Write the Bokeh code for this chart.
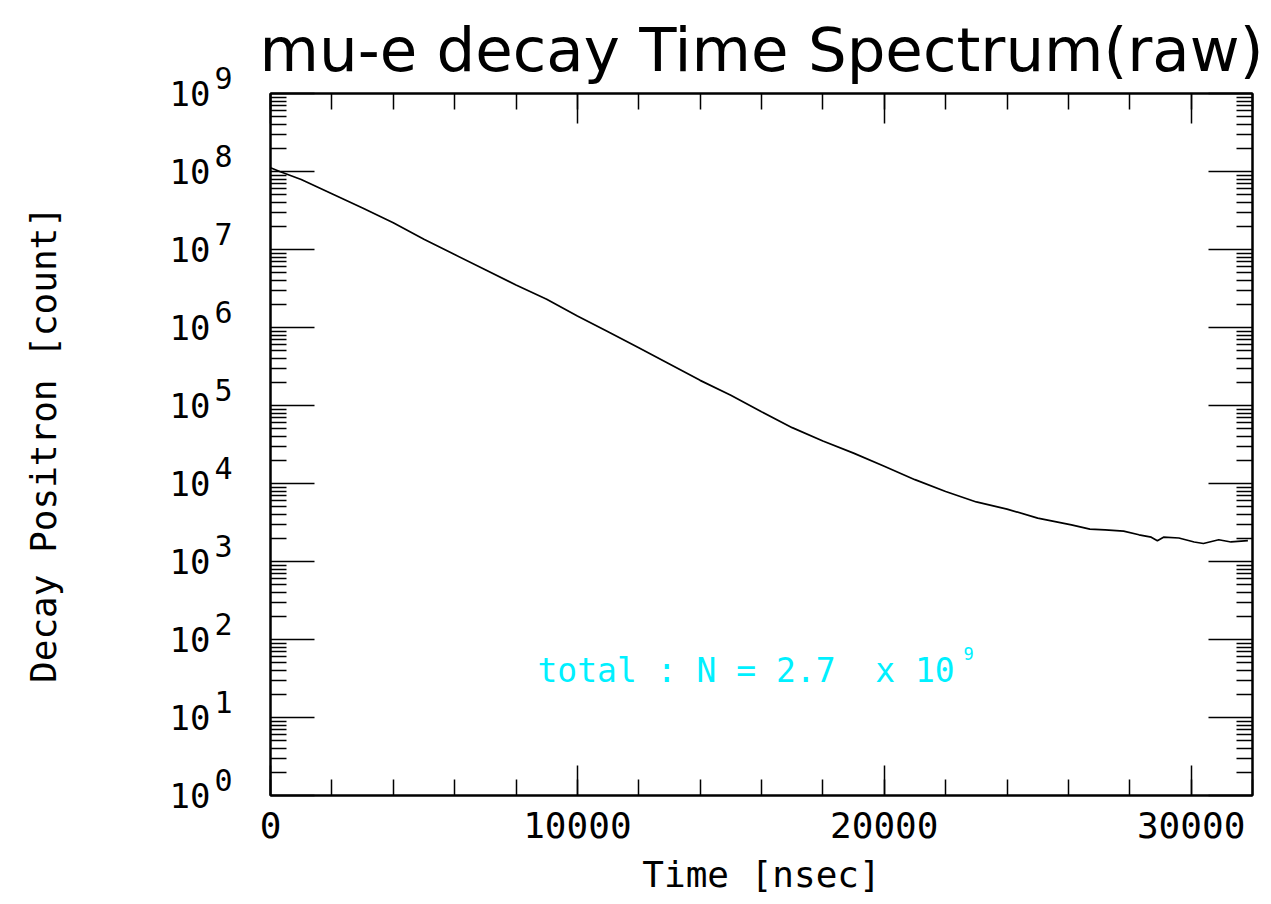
import math
from bokeh.plotting import figure
from bokeh.layouts import row
from bokeh.models import (ColumnDataSource, LogAxis, LinearAxis, FixedTicker,
                          SingleIntervalTicker, Label, Range1d,
                          BasicTickFormatter, CustomJSTickFormatter)
from bokeh.core.properties import value
from bokeh.embed import file_html
from bokeh.resources import INLINE

# ---- data ----
time_ns = [0, 300, 1000, 2000, 3000, 4000, 5000, 6000, 7000, 8000, 9000,
           10000, 11000, 12000, 13000, 14000, 15000, 16000, 17000, 18000,
           19000, 20000, 21000, 22000, 23000, 24000, 25000, 26100, 26700,
           27200, 27800, 28300, 28700, 28900, 29100, 29600, 30100, 30400,
           30900, 31300, 31850]
counts = [1.12e8, 1.0e8, 7.9e7, 5.2e7, 3.4e7, 2.2e7, 1.35e7, 8.6e6, 5.5e6,
          3.5e6, 2.3e6, 1.4e6, 8.8e5, 5.5e5, 3.4e5, 2.1e5, 1.35e5, 8.3e4,
          5.2e4, 3.5e4, 2.45e4, 1.66e4, 1.12e4, 7.9e3, 5.8e3, 4.7e3, 3.6e3,
          2.95e3, 2.6e3, 2.55e3, 2.45e3, 2.2e3, 2.05e3, 1.85e3, 2.05e3,
          2.0e3, 1.78e3, 1.7e3, 1.9e3, 1.78e3, 1.85e3]

y_exponents = [0, 1, 2, 3, 4, 5, 6, 7, 8, 9]
y_tick_base = "10"
total_text = "total : N = 2.7 \u00a0x 10"
total_exp = "9"
total_pos = (8700, 40)
y_title = "Decay Positron [count]"
x_title = "Time [nsec]"
main_title = "mu-e decay Time Spectrum(raw)"

X_MAX = 32000
MONO = "DejaVu Sans Mono"
H = 904
W = 1271
LEFT_W = 250
FRAME_L = 270
TOP_B = 93
BOT_B = 109
DEC_PX = (H - TOP_B - BOT_B) / 9.0   # pixels per decade

y_range = Range1d(1, 1e9)
major_y = [10.0 ** k for k in y_exponents]

# ---------- left strip holding the 10^k tick labels and the y title ----------
lf_range = Range1d(10 ** (-BOT_B / DEC_PX), 10 ** (9 + TOP_B / DEC_PX))
lf = figure(width=LEFT_W, height=H, output_backend="svg", toolbar_location=None,
            y_axis_type="log", x_axis_location=None, y_axis_location=None,
            x_range=Range1d(0, LEFT_W), y_range=lf_range, title=None,
            min_border_left=0, min_border_right=0, min_border_top=0,
            min_border_bottom=0)
lf.frame_align = False
lf.outline_line_color = None
lf.background_fill_color = "white"
lf.border_fill_color = "white"
lf.grid.visible = False

lab = ColumnDataSource(dict(
    bx=[FRAME_L - 60] * len(y_exponents),
    ex=[FRAME_L - 56] * len(y_exponents),
    y=major_y,
    base=[y_tick_base] * len(y_exponents),
    exp=[str(k) for k in y_exponents],
))
lf.text(x="bx", y="y", text="base", source=lab, y_offset=0,
        text_align="right", text_baseline="alphabetic",
        text_font=value(MONO), text_font_size=value("34px"), text_color="black")
lf.text(x="ex", y="y", text="exp", source=lab, y_offset=-16,
        text_align="left", text_baseline="alphabetic",
        text_font=value(MONO), text_font_size=value("30px"), text_color="black")
lf.text(x=[43], y=[10 ** 4.5], text=[y_title], angle=math.pi / 2,
        text_align="center", text_baseline="middle",
        text_font=value(MONO), text_font_size=value("36px"), text_color="black")

# ---------- main plot ----------
p = figure(width=W - LEFT_W, height=H, output_backend="svg",
           toolbar_location=None, y_axis_type="log",
           x_range=Range1d(0, X_MAX), y_range=y_range,
           min_border_left=FRAME_L - LEFT_W, min_border_right=19,
           min_border_top=TOP_B, min_border_bottom=BOT_B)
p.frame_align = False
p.background_fill_color = "white"
p.border_fill_color = "white"
p.outline_line_color = "black"
p.outline_line_width = 2
p.xgrid.visible = False
p.ygrid.visible = False

p.title.text = main_title
p.title.text_font = "DejaVu Sans"
p.title.text_font_size = "61px"
p.title.text_font_style = "normal"
p.title.text_color = "black"
p.title.align = "center"
p.title.standoff = 18

minor_y = [m * 10.0 ** k for k in y_exponents[:-1] for m in range(2, 10)]
y_ticker = FixedTicker(ticks=major_y, minor_ticks=minor_y)
x_ticker = SingleIntervalTicker(interval=10000, num_minor_ticks=5)


def blank():
    return CustomJSTickFormatter(code="return ''")


def style_axis(ax, major_len, minor_len):
    ax.major_tick_in = major_len
    ax.major_tick_out = 0
    ax.minor_tick_in = minor_len
    ax.minor_tick_out = 0
    ax.major_tick_line_color = "black"
    ax.minor_tick_line_color = "black"
    ax.major_tick_line_width = 1.5
    ax.minor_tick_line_width = 1.5
    ax.axis_line_color = "black"
    ax.axis_line_width = 2


xa = p.xaxis[0]
xa.ticker = x_ticker
xa.formatter = BasicTickFormatter(use_scientific=False)
style_axis(xa, 30, 16)
xa.major_label_text_font = MONO
xa.major_label_text_font_size = "36px"
xa.major_label_text_color = "black"
xa.major_label_standoff = 16
xa.axis_label = x_title
xa.axis_label_text_font = MONO
xa.axis_label_text_font_size = "36px"
xa.axis_label_text_font_style = "normal"
xa.axis_label_text_color = "black"
xa.axis_label_standoff = 13

ya = p.yaxis[0]
ya.ticker = y_ticker
ya.formatter = blank()
style_axis(ya, 44, 16)
ya.major_label_standoff = 0

top = LinearAxis(ticker=x_ticker, formatter=blank())
style_axis(top, 30, 16)
top.major_label_standoff = 0
p.add_layout(top, "above")

right = LogAxis(ticker=y_ticker, formatter=blank())
style_axis(right, 44, 16)
right.major_label_standoff = 0
p.add_layout(right, "right")

src = ColumnDataSource(dict(t=time_ns, n=counts))
p.line("t", "n", source=src, line_color="black", line_width=1.7)

p.add_layout(Label(x=total_pos[0], y=total_pos[1], text=total_text,
                   text_font=MONO, text_font_size="33px", text_color="#00F0FF",
                   text_baseline="alphabetic", text_align="left"))
p.add_layout(Label(x=total_pos[0], y=total_pos[1], text=total_exp,
                   x_offset=426, y_offset=17,
                   text_font=MONO, text_font_size="17px", text_color="#00F0FF",
                   text_baseline="alphabetic", text_align="left"))

layout = row(lf, p, spacing=0)
open("out.html", "w").write(file_html(layout, INLINE))
